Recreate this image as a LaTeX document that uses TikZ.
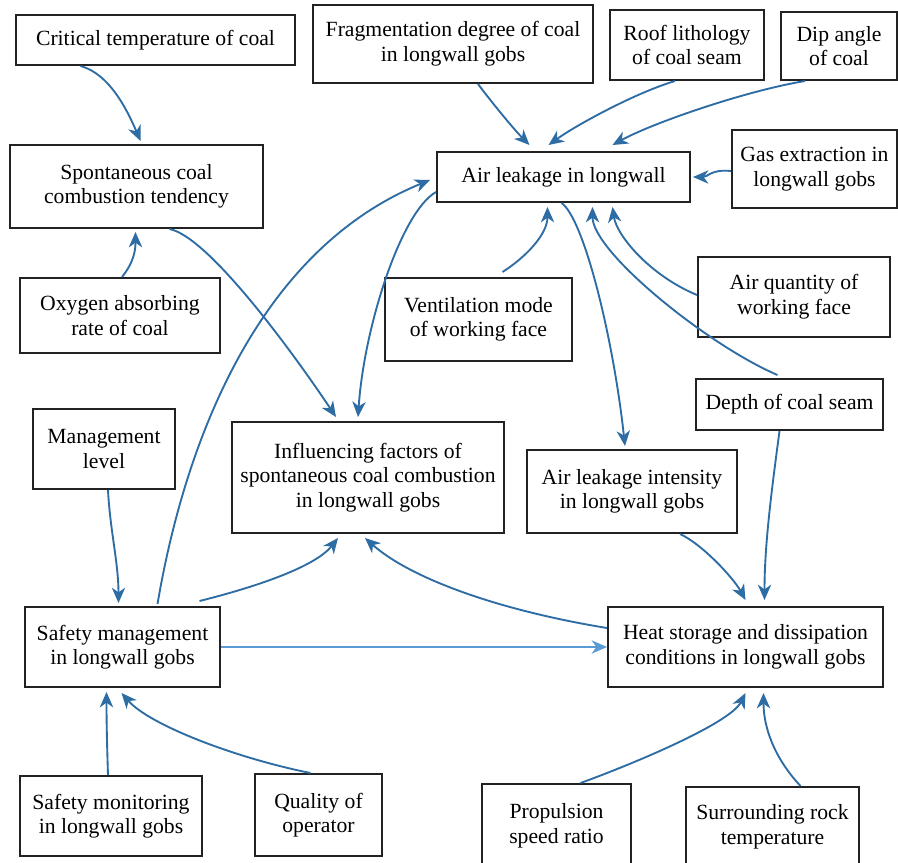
\documentclass[tikz,border=0pt]{standalone}
\usepackage{fontspec}
\setmainfont{Liberation Serif}
\usepackage{xcolor}
\definecolor{steel}{HTML}{2E6CA4}
\definecolor{sky}{HTML}{5B9BD5}
\definecolor{ink}{HTML}{222222}
\usetikzlibrary{arrows.meta,calc}
\tikzset{
  >={Stealth[length=4.6mm,width=4mm,inset=1.4mm]},
  box/.style  ={draw=ink,line width=1.7pt,fill=white,align=center,
                inner sep=2pt,font=\fontsize{18.5}{21}\selectfont},
  flow/.style ={->,draw=steel,line width=1.6pt},
  lite/.style ={->,draw=sky,line width=1.6pt},
}

\begin{document}
\begin{tikzpicture}[x=0.03cm,y=-0.03cm]
\useasboundingbox (0,0) rectangle (898,862);
% top row
\node[box,minimum width=8.37cm,minimum height=1.5cm] (crit) at (155.5,40) {Critical temperature of coal};
\node[box,minimum width=8.4cm,minimum height=2.34cm] (frag) at (453,44) {Fragmentation degree of coal\\ in longwall gobs};
\node[box,minimum width=4.62cm,minimum height=2.1cm] (roof) at (687,45) {Roof lithology\\ of coal seam};
\node[box,minimum width=3.48cm,minimum height=2.04cm] (dip) at (839,46) {Dip angle\\ of coal};
\node[box,minimum width=7.59cm,minimum height=1.5cm] (leak) at (563.5,177) {Air leakage in longwall};
\node[box,minimum width=4.95cm,minimum height=2.34cm] (gas) at (814.5,169) {Gas extraction in\\ longwall gobs};
\node[box,minimum width=7.59cm,minimum height=2.49cm] (spont) at (136.5,186.5) {Spontaneous coal\\ combustion tendency};
% middle
\node[box,minimum width=6cm,minimum height=2.25cm] (oxy) at (120,315.5) {Oxygen absorbing\\ rate of coal};
\node[box,minimum width=5.61cm,minimum height=2.49cm] (vent) at (478.5,319.5) {Ventilation mode\\ of working face};
\node[box,minimum width=5.76cm,minimum height=2.4cm] (airq) at (794,297) {Air quantity of\\ working face};
\node[box,minimum width=5.61cm,minimum height=1.53cm] (depth) at (789.5,404.5) {Depth of coal seam};
\node[box,minimum width=4.26cm,minimum height=2.4cm] (mgmt) at (104,449) {Management\\ level};
\node[box,minimum width=8.16cm,minimum height=3.33cm] (infl) at (368,477.5) {Influencing factors of\\ spontaneous coal combustion\\ in longwall gobs};
\node[box,minimum width=6.3cm,minimum height=2.49cm] (intens) at (632,491.5) {Air leakage intensity\\ in longwall gobs};
% lower
\node[box,minimum width=5.85cm,minimum height=2.4cm] (safety) at (122.5,647) {Safety management\\ in longwall gobs};
\node[box,minimum width=8.25cm,minimum height=2.4cm] (heat) at (745.5,647) {Heat storage and dissipation\\ conditions in longwall gobs};
\node[box,minimum width=5.46cm,minimum height=2.4cm] (monit) at (111,816) {Safety monitoring\\ in longwall gobs};
\node[box,minimum width=3.81cm,minimum height=2.46cm] (qual) at (318.5,815) {Quality of\\ operator};
\node[box,minimum width=4.47cm,minimum height=2.52cm] (prop) at (556.5,826) {Propulsion\\ speed ratio};
\node[box,minimum width=5.19cm,minimum height=2.4cm] (surr) at (772.5,827) {Surrounding rock\\ temperature};
% coal side
\draw[flow] ($(crit.south)+(-75,0)$) .. controls +(30,8) and +(-12,-28) .. ($(spont.north)+(4,-3)$);
\draw[flow] ($(oxy.north)+(2,0)$) .. controls +(12,-15) and +(0,18) .. ($(spont.south)+(-1,3)$);
\draw[flow] ($(spont.south)+(33,0)$) .. controls +(40,8) and +(-40,-60) .. ($(infl.north)+(-32,-4)$);
% into air leakage
\draw[flow] ($(frag.south)+(25,0)$) .. controls +(15,20) and +(-15,-15) .. ($(leak.north)+(-34,-6)$);
\draw[flow] ($(roof.south)+(-12,0)$) .. controls +(-40,12) and +(28,-20) .. ($(leak.north)+(-15,-6)$);
\draw[flow] ($(dip.south)+(-34,0)$) .. controls +(-60,10) and +(40,-22) .. ($(leak.north)+(49,-6)$);
\draw[flow] ($(gas.west)+(0,2)$) .. controls +(-20,-2) and +(15,0) .. ($(leak.east)+(2,0)$);
\draw[flow] ($(vent.north)+(24,-5)$) .. controls +(22,-14) and +(0,28) .. ($(leak.south)+(-16,4)$);
\draw[flow] ($(airq.west)+(0,-2)$) .. controls +(-48,-20) and +(4,28) .. ($(leak.south)+(49,4)$);
\draw[flow] ($(depth.north)+(-12,-3)$) .. controls +(-70,-30) and +(0,45) .. ($(leak.south)+(29,4)$);
\draw[flow] ($(safety.north)+(35,-2)$) .. controls +(28,-165) and +(-171,70) .. ($(leak.west)+(-6,3)$);
% out of air leakage
\draw[flow] ($(leak.south)+(-2,0)$) .. controls +(22,15) and +(-12,-110) .. ($(intens.north)+(-7,-3)$);
\draw[flow] ($(leak.west)+(0,15)$) .. controls +(-35,20) and +(6,-90) .. ($(infl.north)+(-10,-4)$);
% safety management
\draw[flow] ($(mgmt.south)+(4,0)$) .. controls +(2,40) and +(0,-40) .. ($(safety.north)+(-4,-3)$);
\draw[flow] ($(monit.north)+(-3,0)$) .. controls +(-1,-30) and +(0,30) .. ($(safety.south)+(-16,4)$);
\draw[flow] ($(qual.north)+(-8,0)$) .. controls +(-75,-15) and +(28,32) .. ($(safety.south)+(-1,5)$);
\draw[flow] ($(safety.north)+(77,-5)$) .. controls +(60,-15) and +(-22,28) .. ($(infl.south)+(-30,4)$);
\draw[lite] (safety.east) -- (heat.west);
% heat storage
\draw[flow] ($(heat.west)+(0,-19)$) .. controls +(-110,-18) and +(45,40) .. ($(infl.south)+(-3,4)$);
\draw[flow] ($(intens.south)+(48,0)$) .. controls +(22,10) and +(-12,-22) .. ($(heat.north)+(0,-6)$);
\draw[flow] ($(depth.south)+(-10,0)$) .. controls +(-8,60) and +(0,-55) .. ($(heat.north)+(19,-6)$);
\draw[flow] ($(prop.north)+(24,0)$) .. controls +(55,-20) and +(-15,30) .. ($(heat.south)+(0,5)$);
\draw[flow] ($(surr.north)+(28,0)$) .. controls +(-28,-30) and +(0,32) .. ($(heat.south)+(18,5)$);
\end{tikzpicture}
\end{document}
